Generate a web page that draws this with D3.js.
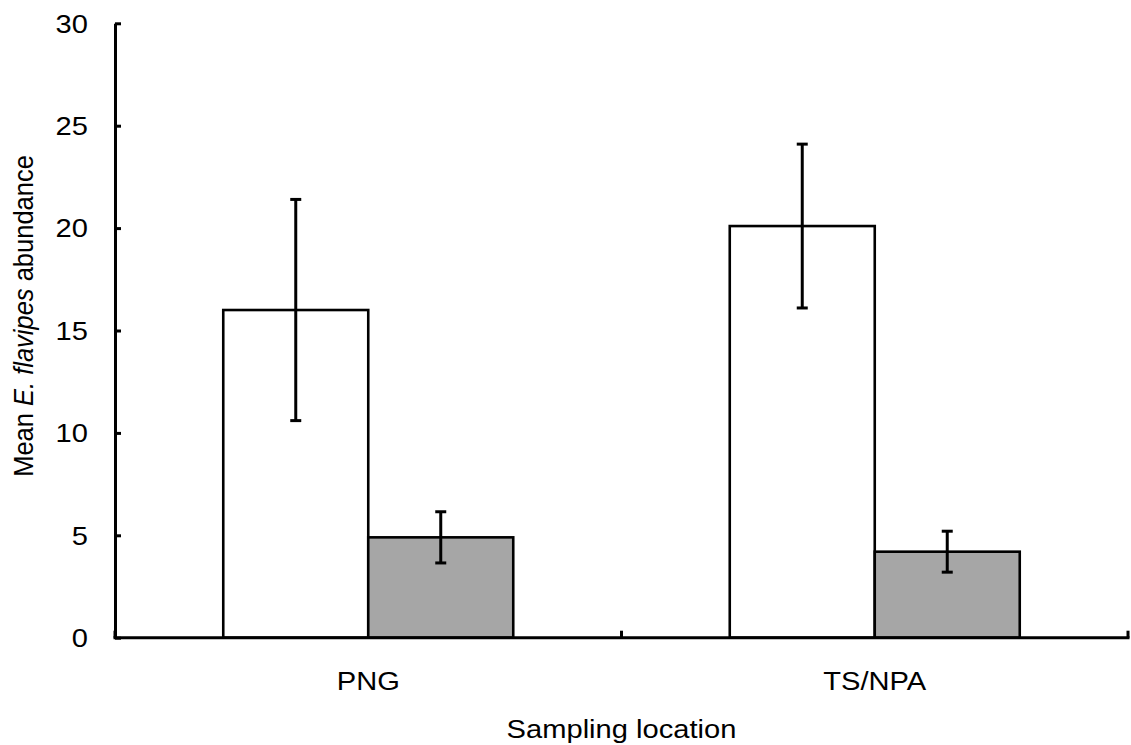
<!DOCTYPE html>
<html>
<head>
<meta charset="utf-8">
<script src="https://cdn.jsdelivr.net/npm/d3@7"></script>
<style>
  html, body { margin: 0; padding: 0; background: #ffffff; }
  svg { display: block; }
  text { font-family: "Liberation Sans", Arial, sans-serif; fill: #000; }
</style>
</head>
<body>
<svg id="chart" width="1131" height="745"></svg>
<script>
// ---- data ----
const categories = ["PNG", "TS/NPA"];
const seriesNames = ["A", "B"];
const seriesA = [16.0, 20.1];   // white bars
const seriesB = [4.9, 4.2];     // grey bars
const errorsA = [5.4, 4.0];
const errorsB = [1.25, 1.0];
const yTicks = [0, 5, 10, 15, 20, 25, 30];
const xTitle = "Sampling location";

// ---- layout ----
const svg = d3.select("#chart");
const plotLeft = 115, plotRight = 1128, plotTop = 23.3, plotBottom = 637.7;
const fs = 26, stretch = 1.12;

const y = d3.scaleLinear().domain([0, 30]).range([plotBottom, plotTop]);
const x0 = d3.scaleBand().domain(categories).range([plotLeft, plotRight]).padding(0);
const x1 = d3.scaleBand().domain(seriesNames).range([0, x0.bandwidth()])
  .paddingInner(0).paddingOuter(0.7466);

const fills = { A: "#ffffff", B: "#a6a6a6" };
const values = { A: seriesA, B: seriesB };
const errs = { A: errorsA, B: errorsB };

const rows = [];
categories.forEach((c, i) => {
  seriesNames.forEach(s => rows.push({ cat: c, s, v: values[s][i], e: errs[s][i] }));
});

// bars
svg.append("g").selectAll("rect").data(rows).join("rect")
  .attr("x", d => x0(d.cat) + x1(d.s))
  .attr("y", d => y(d.v))
  .attr("width", x1.bandwidth())
  .attr("height", d => y(0) - y(d.v))
  .attr("fill", d => fills[d.s])
  .attr("stroke", "#000")
  .attr("stroke-width", 2.6);

// error bars
const eg = svg.append("g").attr("stroke", "#000").attr("stroke-width", 3);
rows.forEach(d => {
  const cx = x0(d.cat) + x1(d.s) + x1.bandwidth() / 2;
  const y1 = y(d.v + d.e), y2 = y(d.v - d.e);
  eg.append("line").attr("x1", cx).attr("x2", cx).attr("y1", y1).attr("y2", y2);
  eg.append("line").attr("x1", cx - 5.5).attr("x2", cx + 5.5).attr("y1", y1).attr("y2", y1);
  eg.append("line").attr("x1", cx - 5.5).attr("x2", cx + 5.5).attr("y1", y2).attr("y2", y2);
});

// y axis
const yAxis = d3.axisLeft(y).tickValues(yTicks).tickSize(-6).tickSizeOuter(0).tickFormat("");
const yg = svg.append("g").attr("transform", `translate(${plotLeft},0)`).call(yAxis);
yg.select(".domain").attr("stroke", "#000").attr("stroke-width", 3);
yg.selectAll(".tick line").attr("stroke", "#000").attr("stroke-width", 3);

svg.append("g").selectAll("text").data(yTicks).join("text")
  .attr("transform", d => `translate(88,${y(d)}) scale(${stretch},1)`)
  .attr("text-anchor", "end")
  .attr("dy", "0.36em")
  .style("font-size", fs + "px")
  .text(d => d);

// x axis
svg.append("line").attr("x1", plotLeft - 1.5).attr("x2", plotRight + 1.5)
  .attr("y1", plotBottom).attr("y2", plotBottom)
  .attr("stroke", "#000").attr("stroke-width", 3);
const xTickPos = categories.map(c => x0(c)).concat([x0.range()[1]]);
svg.append("g").selectAll("line").data(xTickPos).join("line")
  .attr("x1", d => d).attr("x2", d => d)
  .attr("y1", plotBottom).attr("y2", plotBottom - 7)
  .attr("stroke", "#000").attr("stroke-width", 3);

svg.append("g").selectAll("text").data(categories).join("text")
  .attr("transform", d => `translate(${x0(d) + x0.bandwidth() / 2},690) scale(${stretch},1)`)
  .attr("text-anchor", "middle")
  .style("font-size", fs + "px")
  .text(d => d);

// x title
svg.append("text")
  .attr("transform", `translate(${(plotLeft + plotRight) / 2},738) scale(${stretch},1)`)
  .attr("text-anchor", "middle")
  .style("font-size", fs + "px")
  .text(xTitle);

// y title
const yt = svg.append("text")
  .attr("transform", `translate(33,316) scale(${stretch},1) rotate(-90)`)
  .attr("text-anchor", "middle")
  .style("font-size", "25.5px");
yt.append("tspan").text("Mean ");
yt.append("tspan").style("font-style", "italic").text("E. flavipes");
yt.append("tspan").text(" abundance");
</script>
</body>
</html>
